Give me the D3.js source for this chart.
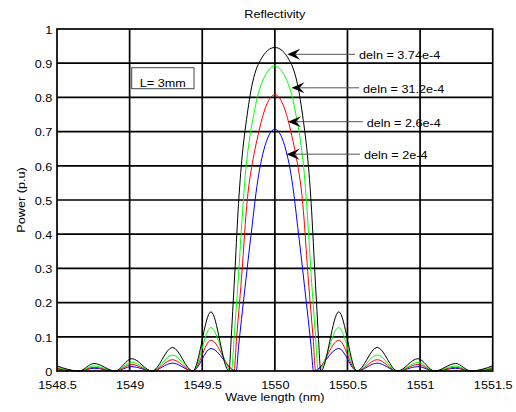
<!DOCTYPE html>
<html>
<head>
<meta charset="utf-8">
<script src="https://cdn.jsdelivr.net/npm/d3@7"></script>
<style>
  body { margin: 0; background: #fff; }
  svg { display: block; }
  text { font-family: "Liberation Sans", Arial, Helvetica, sans-serif; font-size: 11.5px; fill: #000; }
</style>
</head>
<body>
<svg id="chart" width="516" height="412"></svg>
<script>
// ---------------- data ----------------
const xTicks = [1548.5, 1549, 1549.5, 1550, 1550.5, 1551, 1551.5];
const xTickLabels = ["1548.5", "1549", "1549.5", "1550", "1550.5", "1551", "1551.5"];
const yTicks = [0, 0.1, 0.2, 0.3, 0.4, 0.5, 0.6, 0.7, 0.8, 0.9, 1];
const yTickLabels = ["0", "0.1", "0.2", "0.3", "0.4", "0.5", "0.6", "0.7", "0.8", "0.9", "1"];
const centreWavelength = 1550;

// half spectra (symmetric): [offset from centre (nm), reflectivity]
const deln374 = [[0, 0.946], [0.05, 0.937], [0.1, 0.908], [0.13, 0.88], [0.16, 0.83], [0.18, 0.78], [0.2, 0.72],
  [0.22, 0.65], [0.235, 0.58], [0.25, 0.49], [0.262, 0.4], [0.274, 0.3], [0.287, 0.2], [0.3, 0.1], [0.316, 0],
  [0.44, 0.173], [0.565, 0], [0.705, 0.069], [0.845, 0], [0.985, 0.036], [1.1, 0], [1.245, 0.022], [1.35, 0], [1.5, 0.015]];
const deln312 = [[0, 0.892], [0.05, 0.876], [0.1, 0.83], [0.121, 0.8], [0.145, 0.75], [0.167, 0.7], [0.185, 0.645],
  [0.2, 0.59], [0.213, 0.52], [0.225, 0.45], [0.237, 0.37], [0.25, 0.28], [0.265, 0.19], [0.28, 0.1], [0.299, 0],
  [0.44, 0.127], [0.565, 0], [0.705, 0.047], [0.845, 0], [0.985, 0.025], [1.1, 0], [1.245, 0.015], [1.35, 0], [1.5, 0.011]];
const deln26 = [[0, 0.808], [0.05, 0.785], [0.08, 0.75], [0.11, 0.7], [0.138, 0.646], [0.16, 0.595], [0.185, 0.52],
  [0.2, 0.45], [0.215, 0.36], [0.23, 0.27], [0.247, 0.18], [0.263, 0.1], [0.281, 0],
  [0.44, 0.09], [0.565, 0], [0.705, 0.033], [0.845, 0], [0.985, 0.019], [1.1, 0], [1.245, 0.011], [1.35, 0], [1.5, 0.008]];
const deln2 = [[0, 0.707], [0.04, 0.69], [0.076, 0.646], [0.105, 0.59], [0.13, 0.52], [0.155, 0.43], [0.18, 0.34],
  [0.205, 0.245], [0.23, 0.15], [0.25, 0.07], [0.266, 0],
  [0.44, 0.066], [0.565, 0], [0.705, 0.023], [0.845, 0], [0.985, 0.013], [1.1, 0], [1.245, 0.008], [1.35, 0], [1.5, 0.006]];

const seriesNames = ["deln = 3.74e-4", "deln = 31.2e-4", "deln = 2.6e-4", "deln = 2e-4"];
const seriesColors = ["#000000", "#00ff00", "#ff0000", "#0000ff"];
const seriesHalves = [deln374, deln312, deln26, deln2];

// annotation arrows: tip (wavelength, power) and tail wavelength
const arrowTipWl = [1550.085, 1550.115, 1550.09, 1550.08];
const arrowTipPower = [0.926, 0.828, 0.729, 0.634];
const arrowTailWl = [1550.552, 1550.58, 1550.605, 1550.586];

const titleText = "Reflectivity";
const xLabelText = "Wave length (nm)";
const yLabelText = "Power (p.u)";
const boxText = "L= 3mm";

// ---------------- layout ----------------
const svg = d3.select("#chart");
const plotLeft = 57, plotRight = 492.7, plotTop = 29, plotBottom = 371;
const SX = 1.1; // horizontal text stretch

const x = d3.scaleLinear().domain([1548.5, 1551.5]).range([plotLeft, plotRight]);
const y = d3.scaleLinear().domain([0, 1]).range([plotBottom, plotTop]);

svg.append("rect").attr("width", 516).attr("height", 412).attr("fill", "#fff");

// grid
const grid = svg.append("g").attr("stroke", "#000").attr("stroke-width", 1.7);
grid.selectAll("line.v").data(xTicks.slice(1, -1)).join("line").attr("class", "v")
  .attr("x1", d => x(d)).attr("x2", d => x(d)).attr("y1", plotTop).attr("y2", plotBottom);
grid.selectAll("line.h").data(yTicks.slice(1, -1)).join("line").attr("class", "h")
  .attr("x1", plotLeft).attr("x2", plotRight).attr("y1", d => y(d)).attr("y2", d => y(d));

// curves
const full = half => half.slice(1).reverse().map(([d, r]) => [centreWavelength - d, r])
  .concat(half.map(([d, r]) => [centreWavelength + d, r]));
const line = d3.line().x(d => x(d[0])).y(d => y(d[1])).curve(d3.curveMonotoneX);
const order = [3, 2, 1, 0];
svg.append("g").selectAll("path").data(order).join("path")
  .attr("d", i => line(full(seriesHalves[i])))
  .attr("fill", "none").attr("stroke", i => seriesColors[i]).attr("stroke-width", 1);

// frame
svg.append("rect").attr("x", plotLeft).attr("y", plotTop).attr("width", plotRight - plotLeft).attr("height", plotBottom - plotTop)
  .attr("fill", "none").attr("stroke", "#000").attr("stroke-width", 1.7);

// axes
const xAxis = svg.append("g").attr("transform", `translate(0,${plotBottom})`)
  .call(d3.axisBottom(x).tickValues(xTicks).tickFormat((d, i) => xTickLabels[i]).tickSize(0).tickPadding(9.5));
const yAxis = svg.append("g").attr("transform", `translate(${plotLeft},0)`)
  .call(d3.axisLeft(y).tickValues(yTicks).tickFormat((d, i) => yTickLabels[i]).tickSize(0).tickPadding(5));
[xAxis, yAxis].forEach(a => {
  a.select(".domain").remove();
  a.attr("font-family", null).attr("font-size", null);
  a.selectAll("text").attr("fill", "#000");
});
xAxis.selectAll("text").attr("transform", `scale(${SX},1)`);
yAxis.selectAll("text").attr("transform", `scale(${SX},1)`).attr("x", -4.8 / SX).attr("dy", "0.38em");

// texts
function stretchedText(px, py, str, anchor, rot) {
  return svg.append("text")
    .attr("transform", `translate(${px},${py})${rot ? " rotate(" + rot + ")" : ""} scale(${SX},1)`)
    .attr("text-anchor", anchor).text(str);
}
stretchedText((plotLeft + plotRight) / 2, 17.5, titleText, "middle");
stretchedText((plotLeft + plotRight) / 2, 401, xLabelText, "middle");
stretchedText(24.5, (plotTop + plotBottom) / 2, yLabelText, "middle", -90);

// L= 3mm box
svg.append("rect").attr("x", 131.7).attr("y", 67.7).attr("width", 62.3).attr("height", 21)
  .attr("fill", "#fff").attr("stroke", "#444").attr("stroke-width", 1);
stretchedText(162.8, 86.5, boxText, "middle");

// annotation arrows
const ann = svg.append("g");
seriesNames.forEach((name, i) => {
  const tx = x(arrowTipWl[i]), ty = y(arrowTipPower[i]);
  const ex = x(arrowTailWl[i]);
  ann.append("line").attr("x1", tx + 8).attr("x2", ex).attr("y1", ty).attr("y2", ty)
    .attr("stroke", "#555").attr("stroke-width", 1);
  ann.append("path")
    .attr("d", `M${tx},${ty} L${tx + 13},${ty - 5.5} L${tx + 8},${ty} L${tx + 13},${ty + 5.5} Z`)
    .attr("fill", "#000");
  stretchedText(ex + 4, ty + 5, name, "start");
});
</script>
</body>
</html>
